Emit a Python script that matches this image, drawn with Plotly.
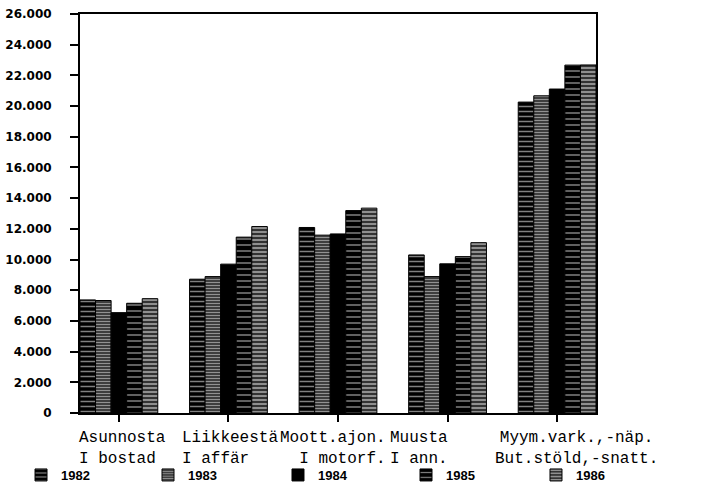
import plotly.graph_objects as go

categories = ["Asunnosta<br>I bostad", "Liikkeestä<br>I affär", "Moott.ajon.<br>I motorf.",
              "Muusta<br>I ann.", "Myym.vark.,-näp.<br>But.stöld,-snatt."]
years = ["1982", "1983", "1984", "1985", "1986"]
v1982 = [7370, 8720, 12090, 10300, 20260]
v1983 = [7330, 8890, 11590, 8890, 20670]
v1984 = [6540, 9700, 11670, 9720, 21110]
v1985 = [7150, 11460, 13190, 10190, 22670]
v1986 = [7450, 12150, 13350, 11100, 22680]
series = [v1982, v1983, v1984, v1985, v1986]
ytickvals = [0, 2000, 4000, 6000, 8000, 10000, 12000, 14000, 16000, 18000, 20000, 22000, 24000, 26000]

# style: bar patterns, label offsets/alignment, legend positions
patterns = [
    dict(shape="-", bgcolor="black", fgcolor="white", size=5, solidity=0.3),
    dict(shape="-", bgcolor="#222222", fgcolor="white", size=3, solidity=0.5),
    dict(shape=""),
    dict(shape="-", bgcolor="black", fgcolor="white", size=6, solidity=0.25),
    dict(shape="-", bgcolor="#333333", fgcolor="white", size=4, solidity=0.45),
]
label_xshift = [-42, -48, -60, -60, -64]
label_align = ["left", "left", "right", "center", "center"]
legend_ids = ["legend", "legend2", "legend3", "legend4", "legend5"]
legend_x = [-0.1143, 0.1318, 0.3837, 0.6318, 0.8837]

fig = go.Figure()
for name, vals, pat, lid in zip(years, series, patterns, legend_ids):
    fig.add_trace(go.Bar(
        x=categories, y=vals, name=name, legend=lid,
        marker=dict(color="black", line=dict(color="black", width=1), pattern=pat),
    ))

for cat, xs, al in zip(categories, label_xshift, label_align):
    fig.add_annotation(
        x=cat, xref="x", y=0, yref="paper", xanchor="left", yanchor="top",
        xshift=xs, yshift=-14, text=cat, showarrow=False, align=al,
        font=dict(family="Liberation Mono", size=16, color="black"),
    )

legend_font = dict(family="Liberation Sans", size=13, color="black", weight="bold")
layout_legends = {}
for lid, lx in zip(legend_ids, legend_x):
    layout_legends[lid] = dict(orientation="h", x=lx, xanchor="left", y=-0.1554, yanchor="middle",
                               font=legend_font, bgcolor="rgba(0,0,0,0)")

fig.update_layout(
    width=702, height=485,
    margin=dict(l=80, r=106, t=14, b=72, autoexpand=False),
    paper_bgcolor="white", plot_bgcolor="white",
    barmode="group", bargap=0.29, bargroupgap=0,
    separators=",.",
    showlegend=True,
    **layout_legends,
)
fig.update_xaxes(
    range=[-0.5 + 0.145, 4.5 - 0.145],
    showline=True, linecolor="black", linewidth=2, mirror=True,
    ticks="outside", ticklen=7, tickwidth=2, tickcolor="black",
    showticklabels=False, automargin=False,
    showgrid=False,
)
fig.update_yaxes(
    range=[0, 26000], tickvals=ytickvals, tickformat=",d",
    showline=True, linecolor="black", linewidth=2, mirror=True,
    ticks="outside", ticklen=8, tickwidth=2, tickcolor="black",
    ticklabelstandoff=16, automargin=False,
    tickfont=dict(family="DejaVu Sans", size=12, color="black", weight="bold"),
    showgrid=False, zeroline=False,
)

fig.write_html("out.html", config={"displayModeBar": False},
               post_script="document.body.style.margin='0';")
